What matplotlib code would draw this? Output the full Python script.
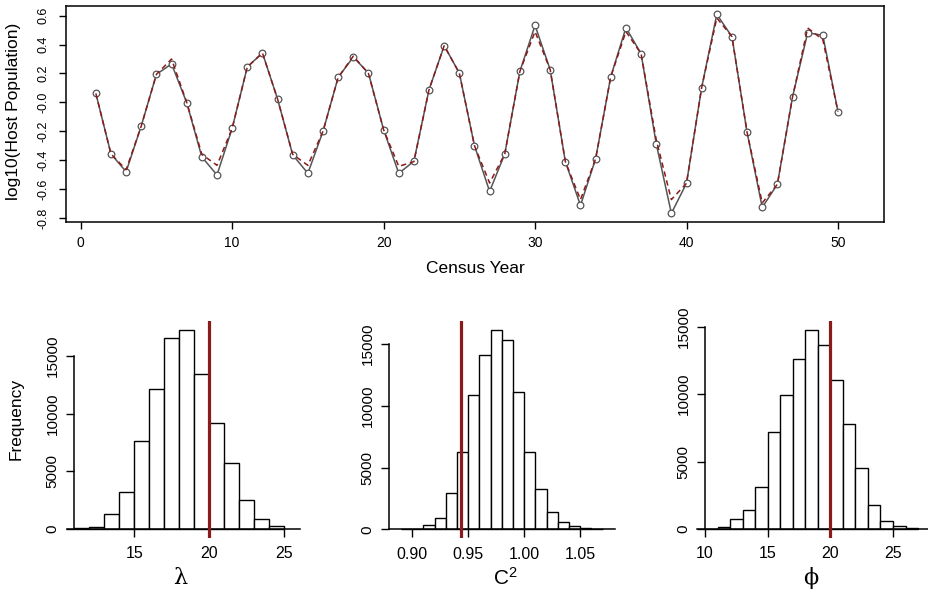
import numpy as np
import matplotlib
matplotlib.use("Agg")
import matplotlib.pyplot as plt
from matplotlib.ticker import FormatStrFormatter

plt.rcParams['font.family'] = ['Liberation Sans', 'DejaVu Sans']
plt.rcParams['mathtext.fontset'] = 'custom'
plt.rcParams['mathtext.rm'] = 'Liberation Sans'
plt.rcParams['mathtext.default'] = 'regular'

# === data ===
years = list(range(1, 51))
host_obs = [0.062, -0.357, -0.48, -0.163, 0.194, 0.266, -0.002, -0.378, -0.502, -0.18,
            0.245, 0.342, 0.023, -0.364, -0.491, -0.2, 0.173, 0.314, 0.203, -0.189,
            -0.491, -0.408, 0.088, 0.392, 0.203, -0.30, -0.616, -0.357, 0.215, 0.533,
            0.226, -0.41, -0.713, -0.39, 0.178, 0.517, 0.337, -0.286, -0.768, -0.56,
            0.102, 0.609, 0.455, -0.208, -0.727, -0.567, 0.037, 0.482, 0.464, -0.064]
host_fit = [0.062, -0.357, -0.466, -0.163, 0.194, 0.30, 0.0, -0.36, -0.436, -0.18,
            0.245, 0.342, 0.023, -0.36, -0.436, -0.2, 0.173, 0.32, 0.2, -0.189,
            -0.443, -0.41, 0.088, 0.392, 0.203, -0.30, -0.558, -0.357, 0.215, 0.49,
            0.226, -0.41, -0.673, -0.39, 0.178, 0.49, 0.337, -0.258, -0.673, -0.56,
            0.102, 0.584, 0.455, -0.208, -0.696, -0.567, 0.037, 0.515, 0.434, -0.064]

lam_edges = list(range(11, 26))
lam_counts = [50, 140, 1330, 3170, 7590, 12120, 16530, 17250, 13440, 9150, 5680, 2540, 870, 230]
lam_true = 20

c2_edges = [round(0.89 + 0.01 * i, 2) for i in range(19)]
c2_counts = [20, 60, 320, 940, 2910, 6260, 10870, 14140, 16140, 15330, 11120, 6230,
             3240, 1430, 620, 240, 90, 30]
c2_true = 0.9435

phi_edges = list(range(10, 28))
phi_counts = [30, 170, 710, 1400, 3120, 7180, 9940, 12640, 14730, 13630, 11090, 7820,
              4550, 1770, 570, 200, 70]
phi_true = 20

W, H = 929, 593
fig = plt.figure(figsize=(W / 100, H / 100), dpi=100)
red = "#8B1A1A"
serif = ["DejaVu Serif", "Liberation Serif"]


def frac(x0, x1, ytop, ybot):
    return [x0 / W, 1 - ybot / H, (x1 - x0) / W, (ybot - ytop) / H]


# === top: time series ===
ax = fig.add_axes(frac(66, 884, 6, 222))
ax.plot(years, host_obs, color="#555555", lw=1.1, zorder=2)
ax.plot(years, host_obs, ls="none", marker="o", ms=4.8, mfc="white", mec="#555555",
        mew=0.9, zorder=3)
ax.plot(years, host_fit, color=red, lw=1.1, ls=(0, (3.5, 2.5)), zorder=4)
ax.set_xlim(-0.97, 53.04)
ax.set_ylim(-0.828, 0.667)
ax.set_xticks([0, 10, 20, 30, 40, 50])
ax.set_yticks(np.round(np.arange(-0.8, 0.61, 0.2), 1))
ax.yaxis.set_major_formatter(FormatStrFormatter("%.1f"))
for s in ax.spines.values():
    s.set_linewidth(1.1)
ax.tick_params(axis="x", direction="out", length=5, width=1.0, labelsize=10, pad=5)
ax.tick_params(axis="y", direction="out", length=5, width=1.0, labelsize=9, pad=7,
               labelrotation=90)
for t in ax.get_yticklabels():
    t.set_va("center")
ax.set_xlabel("Census Year", fontsize=12.5)
ax.xaxis.set_label_coords(0.5, -0.213)
ax.xaxis.label.set_va("center")
ax.set_ylabel("log10(Host Population)", fontsize=12.5)
ax.yaxis.set_label_coords(-0.0636, 0.514)
ax.yaxis.label.set_va("center")

# === bottom: posterior histograms ===
hists = [
    (frac(67.3, 300, 321, 538), lam_edges, lam_counts, lam_true, (10.53, 26.05), (-780, 18024),
     11, [15, 20, 25], "%d", "λ", 0.484, serif),
    (frac(389, 615, 321, 538), c2_edges, c2_counts, c2_true, (0.8792, 1.081), (-704, 16853),
     0.8792, [0.90, 0.95, 1.00, 1.05], "%.2f", r"C$^2$", 0.513, None),
    (frac(697, 929, 321, 538), phi_edges, phi_counts, phi_true, (9.36, 27.87), (-668, 15430),
     10, [10, 15, 20, 25], "%d", "ϕ", 0.491, serif),
]

for i, (pos, edges, counts, true_val, xl, yl, yax_x, xt, fmt, lab, labx, fam) in enumerate(hists):
    h = fig.add_axes(pos)
    widths = np.diff(edges)
    h.bar(edges[:-1], counts, width=widths, align="edge", facecolor="white",
          edgecolor="black", linewidth=1.0, zorder=2)
    h.axvline(true_val, color=red, lw=2.3, zorder=3)
    h.set_xlim(*xl)
    h.set_ylim(*yl)
    h.spines["top"].set_visible(False)
    h.spines["right"].set_visible(False)
    h.spines["bottom"].set_position(("data", 0))
    h.spines["left"].set_position(("data", yax_x))
    h.spines["left"].set_bounds(0, 15000)
    h.spines["bottom"].set_linewidth(1.1)
    h.spines["left"].set_linewidth(1.1)
    h.set_xticks(xt)
    h.xaxis.set_major_formatter(FormatStrFormatter(fmt))
    h.set_yticks([0, 5000, 10000, 15000])
    h.tick_params(axis="x", direction="out", length=5.5, width=1.0, labelsize=11.5, pad=7)
    h.tick_params(axis="y", direction="out", length=5.5, width=1.0, labelsize=11, pad=5,
                  labelrotation=90)
    for t in h.get_yticklabels():
        t.set_va("center")
    if fam:
        h.set_xlabel(lab, fontsize=16, va="center", family=fam)
    else:
        h.set_xlabel(lab, fontsize=15, va="center")
    h.xaxis.set_label_coords(labx, -0.184)
    if i == 0:
        h.set_ylabel("Frequency", fontsize=12.5, va="center")
        h.yaxis.set_label_coords(-0.22, 0.548)

fig.savefig("out.png", dpi=100)
